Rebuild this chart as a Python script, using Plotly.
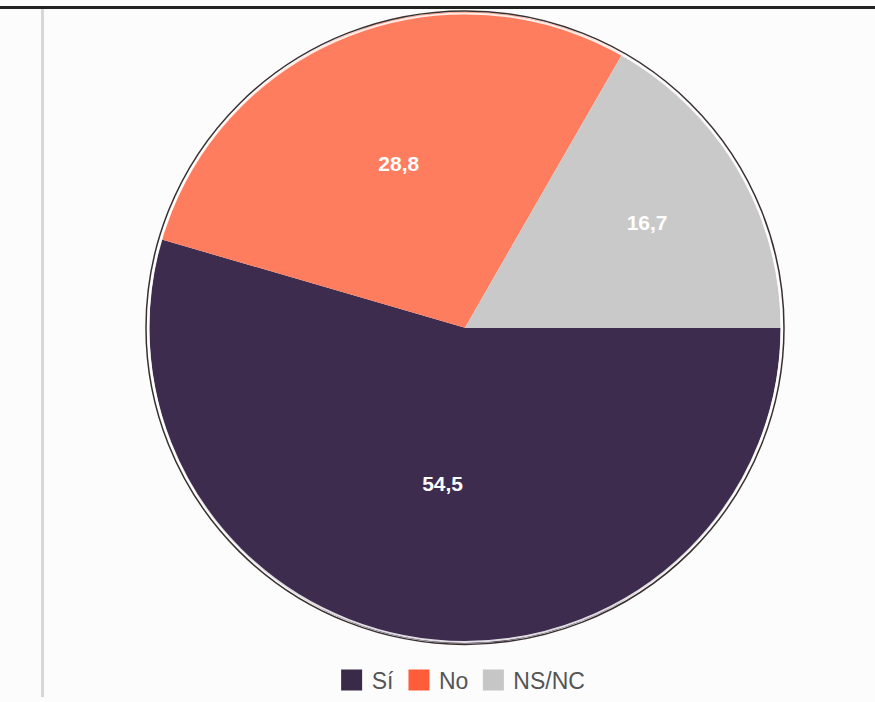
import plotly.graph_objects as go

labels = ["Sí", "No", "NS/NC"]
values = [54.5, 28.8, 16.7]
value_text = ["54,5", "28,8", "16,7"]
colors = ["#3d2c4d", "#ff7d5f", "#c9c9c9"]
legend_colors = ["#3a2a4a", "#ff5c3a", "#c6c6c6"]

W, H = 875, 702
cx, cy, r = 465, 330, 318

fig = go.Figure()
fig.add_trace(go.Pie(
    labels=labels,
    values=values,
    text=value_text,
    texttemplate="%{text}",
    textposition="inside",
    insidetextorientation="horizontal",
    textfont=dict(family="Liberation Sans", size=21, color="white", weight="bold"),
    marker=dict(colors=colors, line=dict(color="rgba(0,0,0,0)", width=0)),
    sort=False,
    direction="clockwise",
    rotation=90,
    showlegend=False,
    hoverinfo="label+value",
    domain=dict(x=[(cx - r) / W, (cx + r) / W], y=[1 - (cy + r) / H, 1 - (cy - r) / H]),
))

# legend entries
for lab, col in zip(labels, legend_colors):
    fig.add_trace(go.Scatter(
        x=[None], y=[None], mode="markers", name=lab,
        marker=dict(symbol="square", size=16, color=col, line=dict(color=col, width=5)),
    ))

shapes = [
    dict(type="circle", xref="paper", yref="paper",
         x0=(cx - r + 1.5) / W, x1=(cx + r - 1.5) / W,
         y0=1 - (cy + r - 1.5) / H, y1=1 - (cy - r + 1.5) / H,
         line=dict(color="rgba(255,255,255,0.85)", width=2)),
    dict(type="circle", xref="paper", yref="paper",
         x0=(cx - r - 1) / W, x1=(cx + r + 1) / W,
         y0=1 - (cy + r + 1) / H, y1=1 - (cy - r - 1) / H,
         line=dict(color="#3a3030", width=1.5)),
    dict(type="line", xref="paper", yref="paper", x0=0, x1=1,
         y0=1 - 7.5 / H, y1=1 - 7.5 / H, line=dict(color="#222222", width=3)),
    dict(type="line", xref="paper", yref="paper", x0=42.5 / W, x1=42.5 / W,
         y0=0, y1=1 - 9 / H, line=dict(color="#d8d8d8", width=3)),
]

fig.update_layout(
    width=W, height=H,
    margin=dict(l=0, r=0, t=0, b=0),
    paper_bgcolor="#fcfcfc",
    plot_bgcolor="rgba(0,0,0,0)",
    xaxis=dict(visible=False),
    yaxis=dict(visible=False),
    shapes=shapes,
    legend=dict(
        orientation="h", x=0.527, xanchor="center", y=1 - 685 / H, yanchor="middle",
        font=dict(family="Liberation Sans", size=23, color="#555555"),
        bgcolor="rgba(0,0,0,0)", itemsizing="trace",
    ),
)

fig.write_html(
    "out.html",
    config={"displayModeBar": False},
    post_script="document.body.style.margin='0';document.body.style.overflow='hidden';",
)
